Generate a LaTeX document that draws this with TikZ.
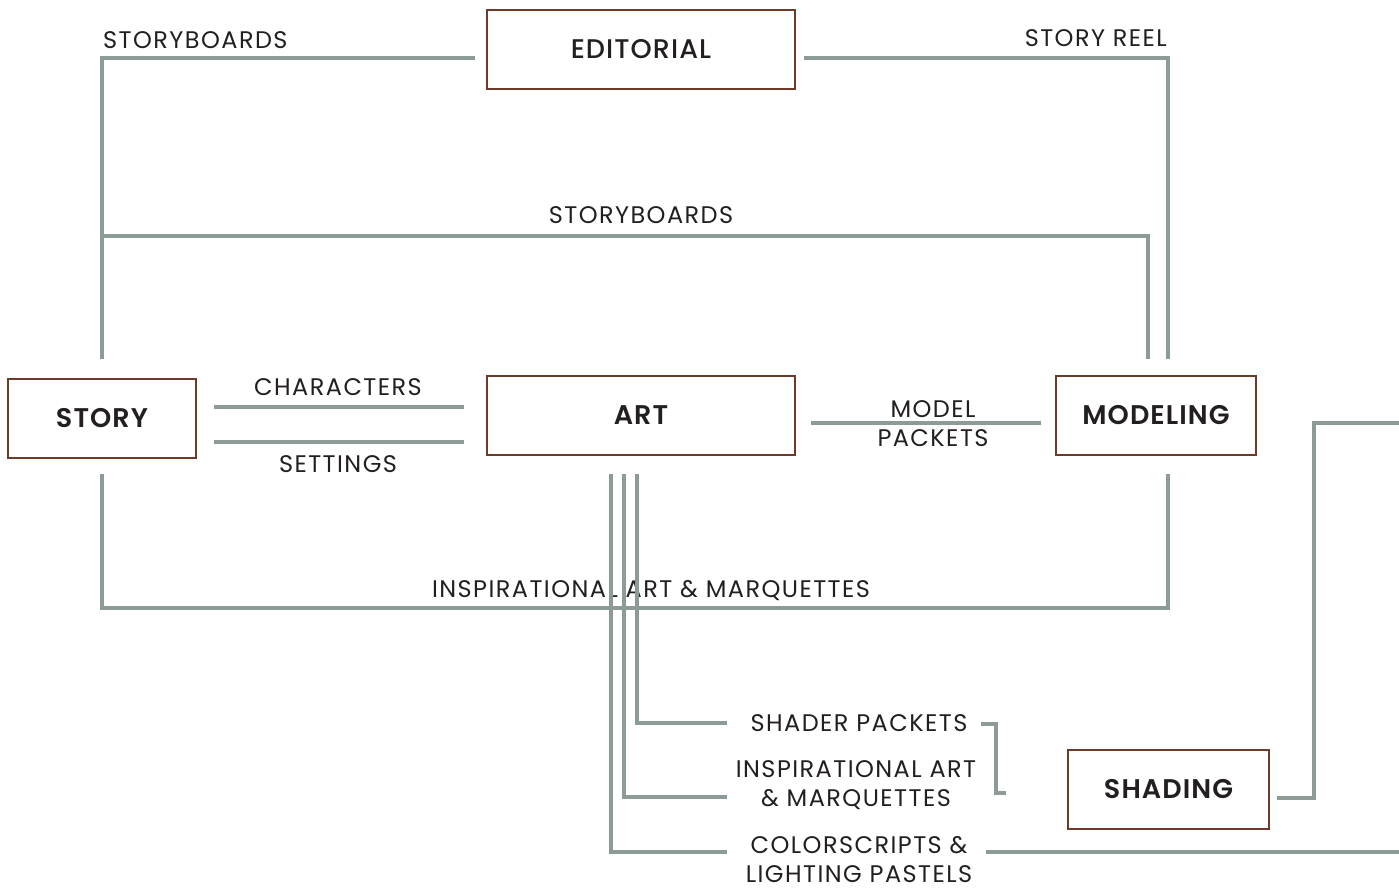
\documentclass[tikz,border=0pt]{standalone}
\usepackage{fontspec}
\setmainfont{Poppins}
\newfontfamily\deptsemi{Poppins SemiBold}[LetterSpace=4]
\newfontfamily\deptmed{Poppins Medium}[LetterSpace=4]
\newfontfamily\tagfont{Poppins}[LetterSpace=6]
\usetikzlibrary{positioning}
\definecolor{linegray}{HTML}{8C9B95}
\definecolor{boxbrown}{HTML}{6E3B28}
\definecolor{inkdark}{HTML}{231F20}

\begin{document}
\begin{tikzpicture}[x=1pt,y=-1pt,
  dept/.style={rectangle,draw=boxbrown,line width=1.4pt,minimum width=#1,
    minimum height=79pt,inner sep=0pt,text=inkdark,
    font=\fontsize{27}{30}\deptsemi},
  flow/.style={draw=linegray,line width=4pt},
  tag/.style={inner sep=0pt,align=center,text=inkdark,
    font=\fontsize{24}{29}\tagfont}]
\useasboundingbox (0,0) rectangle (1399,894);
% departments
\node[dept=308pt,font=\fontsize{27}{30}\deptmed] (editorial) at (641,49.5) {EDITORIAL};
\node[dept=188pt] (story)     at (102,418.5)  {STORY};
\node[dept=308pt] (art)       at (641,415.5)  {ART};
\node[dept=200pt] (modeling)  at (1156,415.5) {MODELING};
\node[dept=201pt] (shading)   at (1168.5,789.5) {SHADING};
% labels
\node[tag,anchor=base west] (sbtop)  at (103,48)  {STORYBOARDS};
\node[tag,anchor=base east] (reel)   at (1167,46) {STORY REEL};
\node[tag,anchor=base] (sbmid)       at (641,223) {STORYBOARDS};
\node[tag,anchor=base] (chars)       at (338,395) {CHARACTERS};
\node[tag,anchor=base] (sets)        at (338,472) {SETTINGS};
\node[tag] (packets)                 at (933,423.5) {MODEL\\PACKETS};
\node[tag,anchor=base] (inspall)     at (651,597) {INSPIRATIONAL ART \& MARQUETTES};
\node[tag,anchor=base] (shader)      at (859,731) {SHADER PACKETS};
\node[tag] (inspart)                 at (856,785) {INSPIRATIONAL ART\\\& MARQUETTES};
\node[tag] (colors)                  at (859,860) {COLORSCRIPTS \&\\LIGHTING PASTELS};
% free ends
\coordinate (shaderend) at (727,723);
\coordinate (inspend)   at (727,797);
\coordinate (colorend)  at (727,852);
\coordinate (brackettop) at (981,724);
\coordinate (bracketbot) at (996,793);
\coordinate (bracketend) at (1006,793);
\coordinate (modelexit) at (1399,423);
\coordinate (shadecorner) at (1314,798);
\coordinate (colorstart) at (986,852);
\coordinate (colorexit) at (1399,852);
% connectors
\draw[flow] ([yshift=19pt]story.north) |- ([xshift=-11pt,yshift=-8.5pt]editorial.west);
\draw[flow] ([xshift=8pt,yshift=-8.5pt]editorial.east) -| ([xshift=12pt,yshift=16pt]modeling.north);
\draw[flow] ([yshift=-13pt]story.north |- sbmid.base) -| ([xshift=-8pt,yshift=16pt]modeling.north);
\draw[flow] ([xshift=17pt,yshift=11.5pt]story.east) -- ++(250,0);
\draw[flow] ([xshift=17pt,yshift=-23.5pt]story.east) -- ++(250,0);
\draw[flow] ([xshift=15pt,yshift=-7.5pt]art.east) -- ([xshift=-14pt,yshift=-7.5pt]modeling.west);
\draw[flow] ([yshift=-15pt]story.south) -- ++(0,134) -| ([xshift=12pt,yshift=-18pt]modeling.south);
\draw[flow] ([xshift=-4pt,yshift=-18pt]art.south) |- (shaderend);
\draw[flow] ([xshift=-17pt,yshift=-18pt]art.south) |- (inspend);
\draw[flow] ([xshift=-30pt,yshift=-18pt]art.south) |- (colorend);
\draw[flow] (brackettop) -| (bracketbot) -- (bracketend);
\draw[flow] (modelexit) -| (shadecorner) -- ([xshift=7pt,yshift=-8.5pt]shading.east);
\draw[flow] (colorstart) -- (colorexit);
\end{tikzpicture}
\end{document}
